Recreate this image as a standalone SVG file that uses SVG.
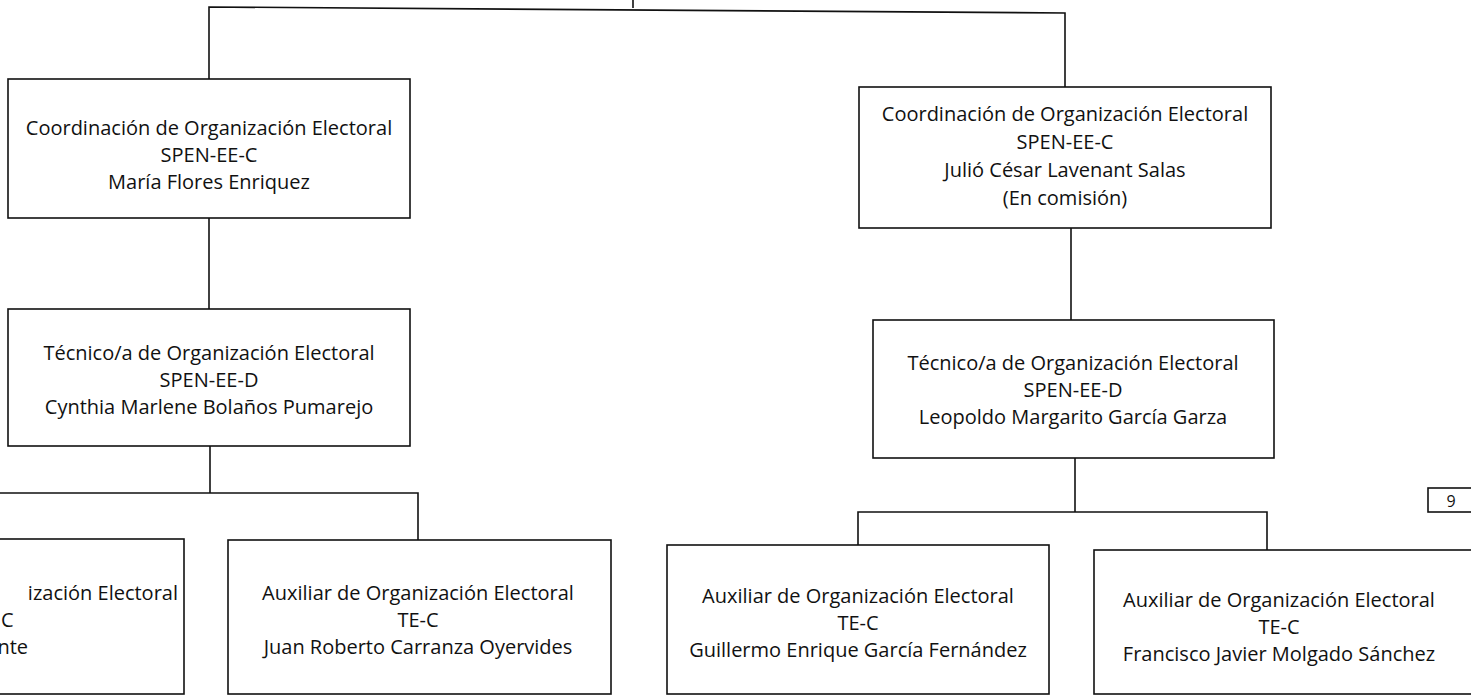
<svg xmlns="http://www.w3.org/2000/svg" width="1471" height="700" viewBox="0 0 1471 700">
<style>
  .box { fill: #ffffff; stroke: #111111; stroke-width: 1.6; }
  .t { font-family: "Open Sans", "Liberation Sans", sans-serif; font-size: 20px; fill: #111111; text-anchor: middle; }
  .te { text-anchor: end; }
  .ts { text-anchor: start; }
  .conn { fill: none; stroke: #111111; stroke-width: 1.6; }
  .pg { font-family: "Open Sans", "Liberation Sans", sans-serif; font-size: 16px; fill: #111111; text-anchor: middle; }
</style>
<rect x="0" y="0" width="1471" height="700" fill="#ffffff"/>
<g id="connectors">
  <path class="conn" d="M633 0 V8"/>
  <path class="conn" d="M209 79 V7 L1065 13 V87"/>
  <path class="conn" d="M209 218 V309"/>
  <path class="conn" d="M210 446 V493"/>
  <path class="conn" d="M0 493 H418 V540"/>
  <path class="conn" d="M1071 228 V320"/>
  <path class="conn" d="M1075 458 V512"/>
  <path class="conn" d="M858 545 V512 H1267 V550"/>
</g>
<g id="node-coord-left">
  <rect class="box" x="8" y="79" width="402" height="139"/>
  <text class="t" x="209" y="135">Coordinación de Organización Electoral</text>
  <text class="t" x="209" y="162">SPEN-EE-C</text>
  <text class="t" x="209" y="189">María Flores Enriquez</text>
</g>
<g id="node-tecnico-left">
  <rect class="box" x="8" y="309" width="402" height="137"/>
  <text class="t" x="209" y="360">Técnico/a de Organización Electoral</text>
  <text class="t" x="209" y="387">SPEN-EE-D</text>
  <text class="t" x="209" y="414">Cynthia Marlene Bolaños Pumarejo</text>
</g>
<g id="node-aux-partial">
  <rect class="box" x="-200" y="539" width="384" height="155"/>
  <text class="t te" x="178" y="600">ización Electoral</text>
  <text class="t ts" x="1" y="627">C</text>
  <text class="t te" x="28" y="654">nte</text>
</g>
<g id="node-aux-juan">
  <rect class="box" x="228" y="540" width="383" height="154"/>
  <text class="t" x="418" y="600">Auxiliar de Organización Electoral</text>
  <text class="t" x="418" y="627">TE-C</text>
  <text class="t" x="418" y="654">Juan Roberto Carranza Oyervides</text>
</g>
<g id="node-coord-right">
  <rect class="box" x="859" y="87" width="412" height="141"/>
  <text class="t" x="1065" y="121">Coordinación de Organización Electoral</text>
  <text class="t" x="1065" y="149">SPEN-EE-C</text>
  <text class="t" x="1065" y="177">Julió César Lavenant Salas</text>
  <text class="t" x="1065" y="205">(En comisión)</text>
</g>
<g id="node-tecnico-right">
  <rect class="box" x="873" y="320" width="401" height="138"/>
  <text class="t" x="1073" y="370">Técnico/a de Organización Electoral</text>
  <text class="t" x="1073" y="397">SPEN-EE-D</text>
  <text class="t" x="1073" y="424">Leopoldo Margarito García Garza</text>
</g>
<g id="node-aux-guillermo">
  <rect class="box" x="667" y="545" width="382" height="149"/>
  <text class="t" x="858" y="603">Auxiliar de Organización Electoral</text>
  <text class="t" x="858" y="630">TE-C</text>
  <text class="t" x="858" y="657">Guillermo Enrique García Fernández</text>
</g>
<g id="node-aux-francisco">
  <rect class="box" x="1094" y="550" width="390" height="144"/>
  <text class="t" x="1279" y="607">Auxiliar de Organización Electoral</text>
  <text class="t" x="1279" y="634">TE-C</text>
  <text class="t" x="1279" y="661">Francisco Javier Molgado Sánchez</text>
</g>
<g id="page-number">
  <rect class="box" x="1428" y="488" width="50" height="24"/>
  <text class="pg" x="1451" y="507">9</text>
</g>
</svg>
